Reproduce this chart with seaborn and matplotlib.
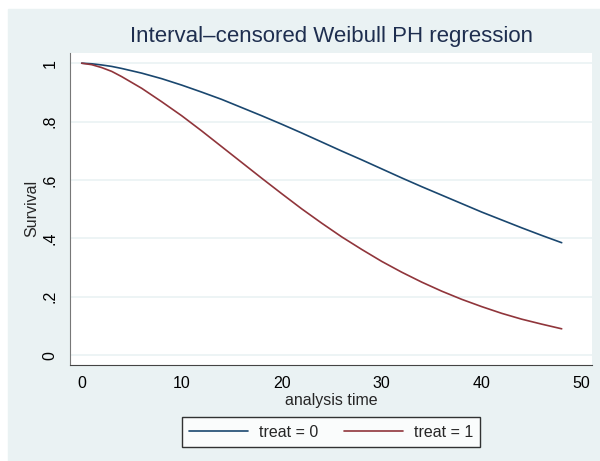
import pandas as pd
import seaborn as sns
import matplotlib.pyplot as plt
from matplotlib.patches import Rectangle

# Survival curves
time = [0, 1, 2, 3, 4, 6, 8, 10, 12, 14, 16, 18, 20, 22, 24,
        26, 28, 30, 32, 34, 36, 38, 40, 42, 44, 46, 48]
surv_treat0 = [1.0, 0.998, 0.994, 0.989, 0.982, 0.966, 0.947, 0.925, 0.901,
               0.876, 0.848, 0.820, 0.791, 0.761, 0.730, 0.699, 0.669, 0.638,
               0.607, 0.577, 0.548, 0.519, 0.490, 0.463, 0.436, 0.410, 0.385]
surv_treat1 = [1.0, 0.995, 0.985, 0.972, 0.954, 0.914, 0.868, 0.820, 0.768,
               0.714, 0.660, 0.606, 0.553, 0.501, 0.452, 0.405, 0.362, 0.321,
               0.284, 0.250, 0.219, 0.191, 0.166, 0.143, 0.123, 0.106, 0.090]
groups = ["treat = 0", "treat = 1"]

df = pd.concat([
    pd.DataFrame({"time": time, "Survival": surv_treat0, "group": groups[0]}),
    pd.DataFrame({"time": time, "Survival": surv_treat1, "group": groups[1]}),
])

sns.set_style("white")
plt.rcParams["font.family"] = ["Liberation Sans", "DejaVu Sans"]

bg = "#EAF2F3"
fig = plt.figure(figsize=(6, 4.61), dpi=100)
fig.patches.append(Rectangle((8 / 600, 0), 1, (461 - 9) / 461,
                             transform=fig.transFigure, color=bg, zorder=-10))

W, H = 600, 461
ax = fig.add_axes([70 / W, (H - 365) / H, (592 - 70) / W, (365 - 52.7) / H])
ax.set_facecolor("white")

sns.lineplot(data=df, x="time", y="Survival", hue="group",
             palette=["#1A476F", "#90353B"], linewidth=1.2, ax=ax, legend=False)

ax.set_xlim(-1.17, 51.03)
ax.set_ylim(-0.034, 1.036)
ax.set_xticks([0, 10, 20, 30, 40, 50])
ax.set_yticks([0, 0.2, 0.4, 0.6, 0.8, 1])
ax.set_yticklabels(["0", ".2", ".4", ".6", ".8", "1"], rotation=90, va="center")
ax.grid(axis="y", color=bg, linewidth=1.2)
ax.grid(axis="x", visible=False)

for s in ["top", "right"]:
    ax.spines[s].set_visible(False)
ax.spines["left"].set_color("#777777")
ax.spines["bottom"].set_color("#444444")
ax.tick_params(axis="both", direction="out", length=5, width=1,
               color="#333333", labelsize=11.5, labelcolor="black")
ax.tick_params(axis="x", pad=3)
ax.tick_params(axis="y", pad=4)

ax.set_xlabel("analysis time", fontsize=11.5, labelpad=1)
ax.set_ylabel("Survival", fontsize=11.5, labelpad=2)
ax.set_title("Interval\u2013censored Weibull PH regression", fontsize=16,
             color="#1E2E4F", pad=8)

handles = [plt.Line2D([], [], color=c, linewidth=1.2) for c in ["#1A476F", "#90353B"]]
leg = fig.legend(handles, groups, loc="center", bbox_to_anchor=(331 / W, 1 - 432 / H),
                 ncol=2, frameon=True, fancybox=False, fontsize=11.5,
                 handlelength=3.7, columnspacing=1.6, borderpad=0.45, handletextpad=0.7)
leg.get_frame().set_edgecolor("black")
leg.get_frame().set_linewidth(1)

fig.savefig("out.png", dpi=100, facecolor="white")
